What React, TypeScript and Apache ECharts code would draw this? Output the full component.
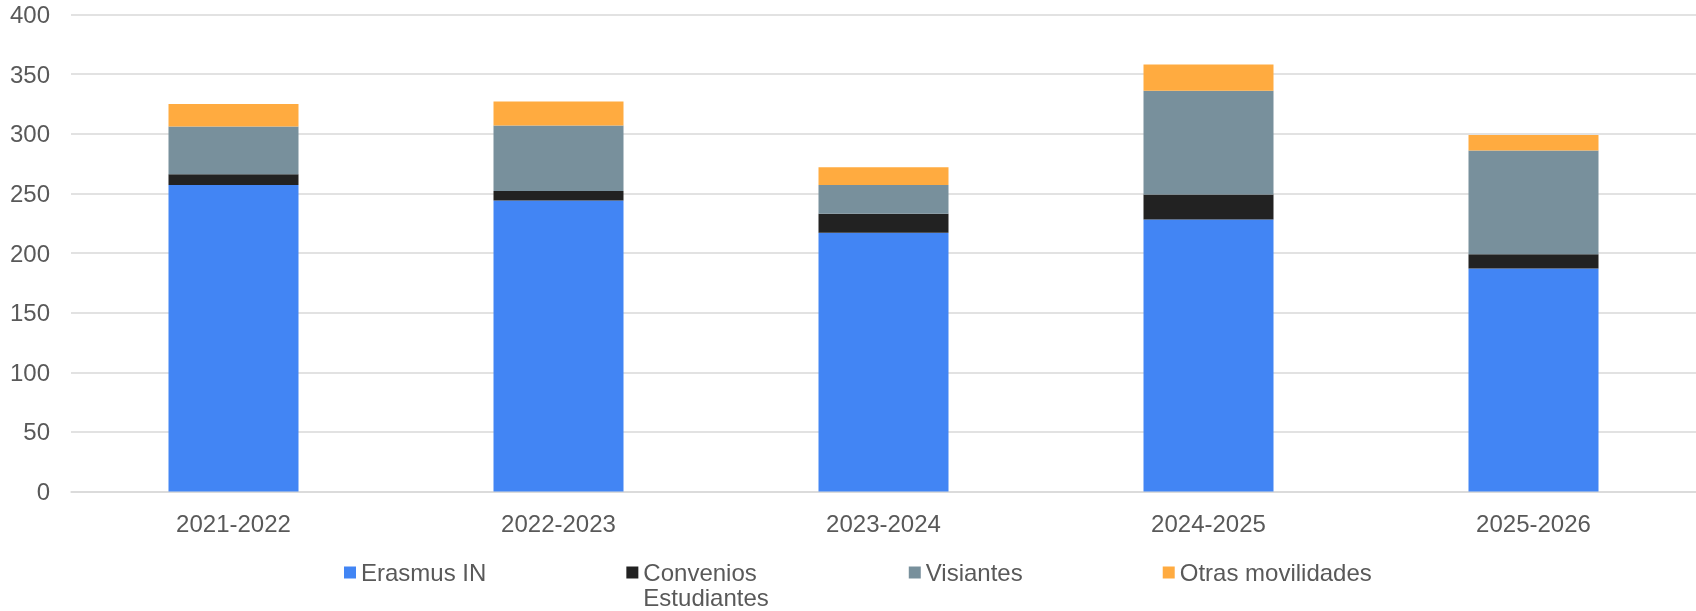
import React, { useEffect, useRef } from "react";
import * as echarts from "echarts";

const categories = ["2021-2022", "2022-2023", "2023-2024", "2024-2025", "2025-2026"];
const erasmusIn = [257, 244, 217, 228, 187];
const convenios = [9, 8, 16, 21, 12];
const visiantes = [40, 55, 24, 87, 87];
const otras = [19, 20, 15, 22, 13];
const yTicks = { min: 0, max: 400, interval: 50 };

const FONT = "'Liberation Sans', Arial, sans-serif";
const TXT = "#595959";

export default function App() {
  const ref = useRef<HTMLDivElement>(null);
  useEffect(() => {
    if (!ref.current) return;
    const chart = echarts.init(ref.current, undefined, { renderer: "svg" });
    const mk = (name: string, data: number[], color: string) => ({
      name,
      type: "bar",
      stack: "total",
      data,
      barWidth: "40%",
      itemStyle: { color },
      emphasis: { disabled: true },
    });
    chart.setOption({
      animation: false,
      textStyle: { fontFamily: FONT },
      grid: { left: 71, right: 0, top: 14.5, bottom: 119.5, containLabel: false },
      xAxis: {
        type: "category",
        data: categories,
        axisLine: { show: true, lineStyle: { color: "#d9d9d9", width: 1.5 } },
        axisTick: { show: false },
        axisLabel: { color: TXT, fontSize: 24, margin: 20, fontFamily: FONT },
      },
      yAxis: {
        type: "value",
        min: yTicks.min,
        max: yTicks.max,
        interval: yTicks.interval,
        axisLine: { show: false },
        axisTick: { show: false },
        axisLabel: { color: TXT, fontSize: 24, margin: 21, fontFamily: FONT },
        splitLine: { lineStyle: { color: "#d9d9d9", width: 1.5 } },
      },
      legend: {
        left: 344,
        top: 535,
        padding: 0,
        itemWidth: 12,
        itemHeight: 12,
        itemGap: 140,
        icon: "rect",
        textStyle: { color: TXT, fontSize: 24, lineHeight: 25, fontFamily: FONT },
        formatter: (name: string) => (name === "Convenios Estudiantes" ? "\nConvenios\nEstudiantes" : name),
        data: ["Erasmus IN", "Convenios Estudiantes", "Visiantes", "Otras movilidades"],
      },
      series: [
        mk("Erasmus IN", erasmusIn, "#4285F4"),
        mk("Convenios Estudiantes", convenios, "#222222"),
        mk("Visiantes", visiantes, "#78909C"),
        mk("Otras movilidades", otras, "#FFAB40"),
      ],
    });
    return () => chart.dispose();
  }, []);
  return <div ref={ref} style={{ position: "fixed", left: 0, top: 0, width: 1696, height: 611 }} />;
}
